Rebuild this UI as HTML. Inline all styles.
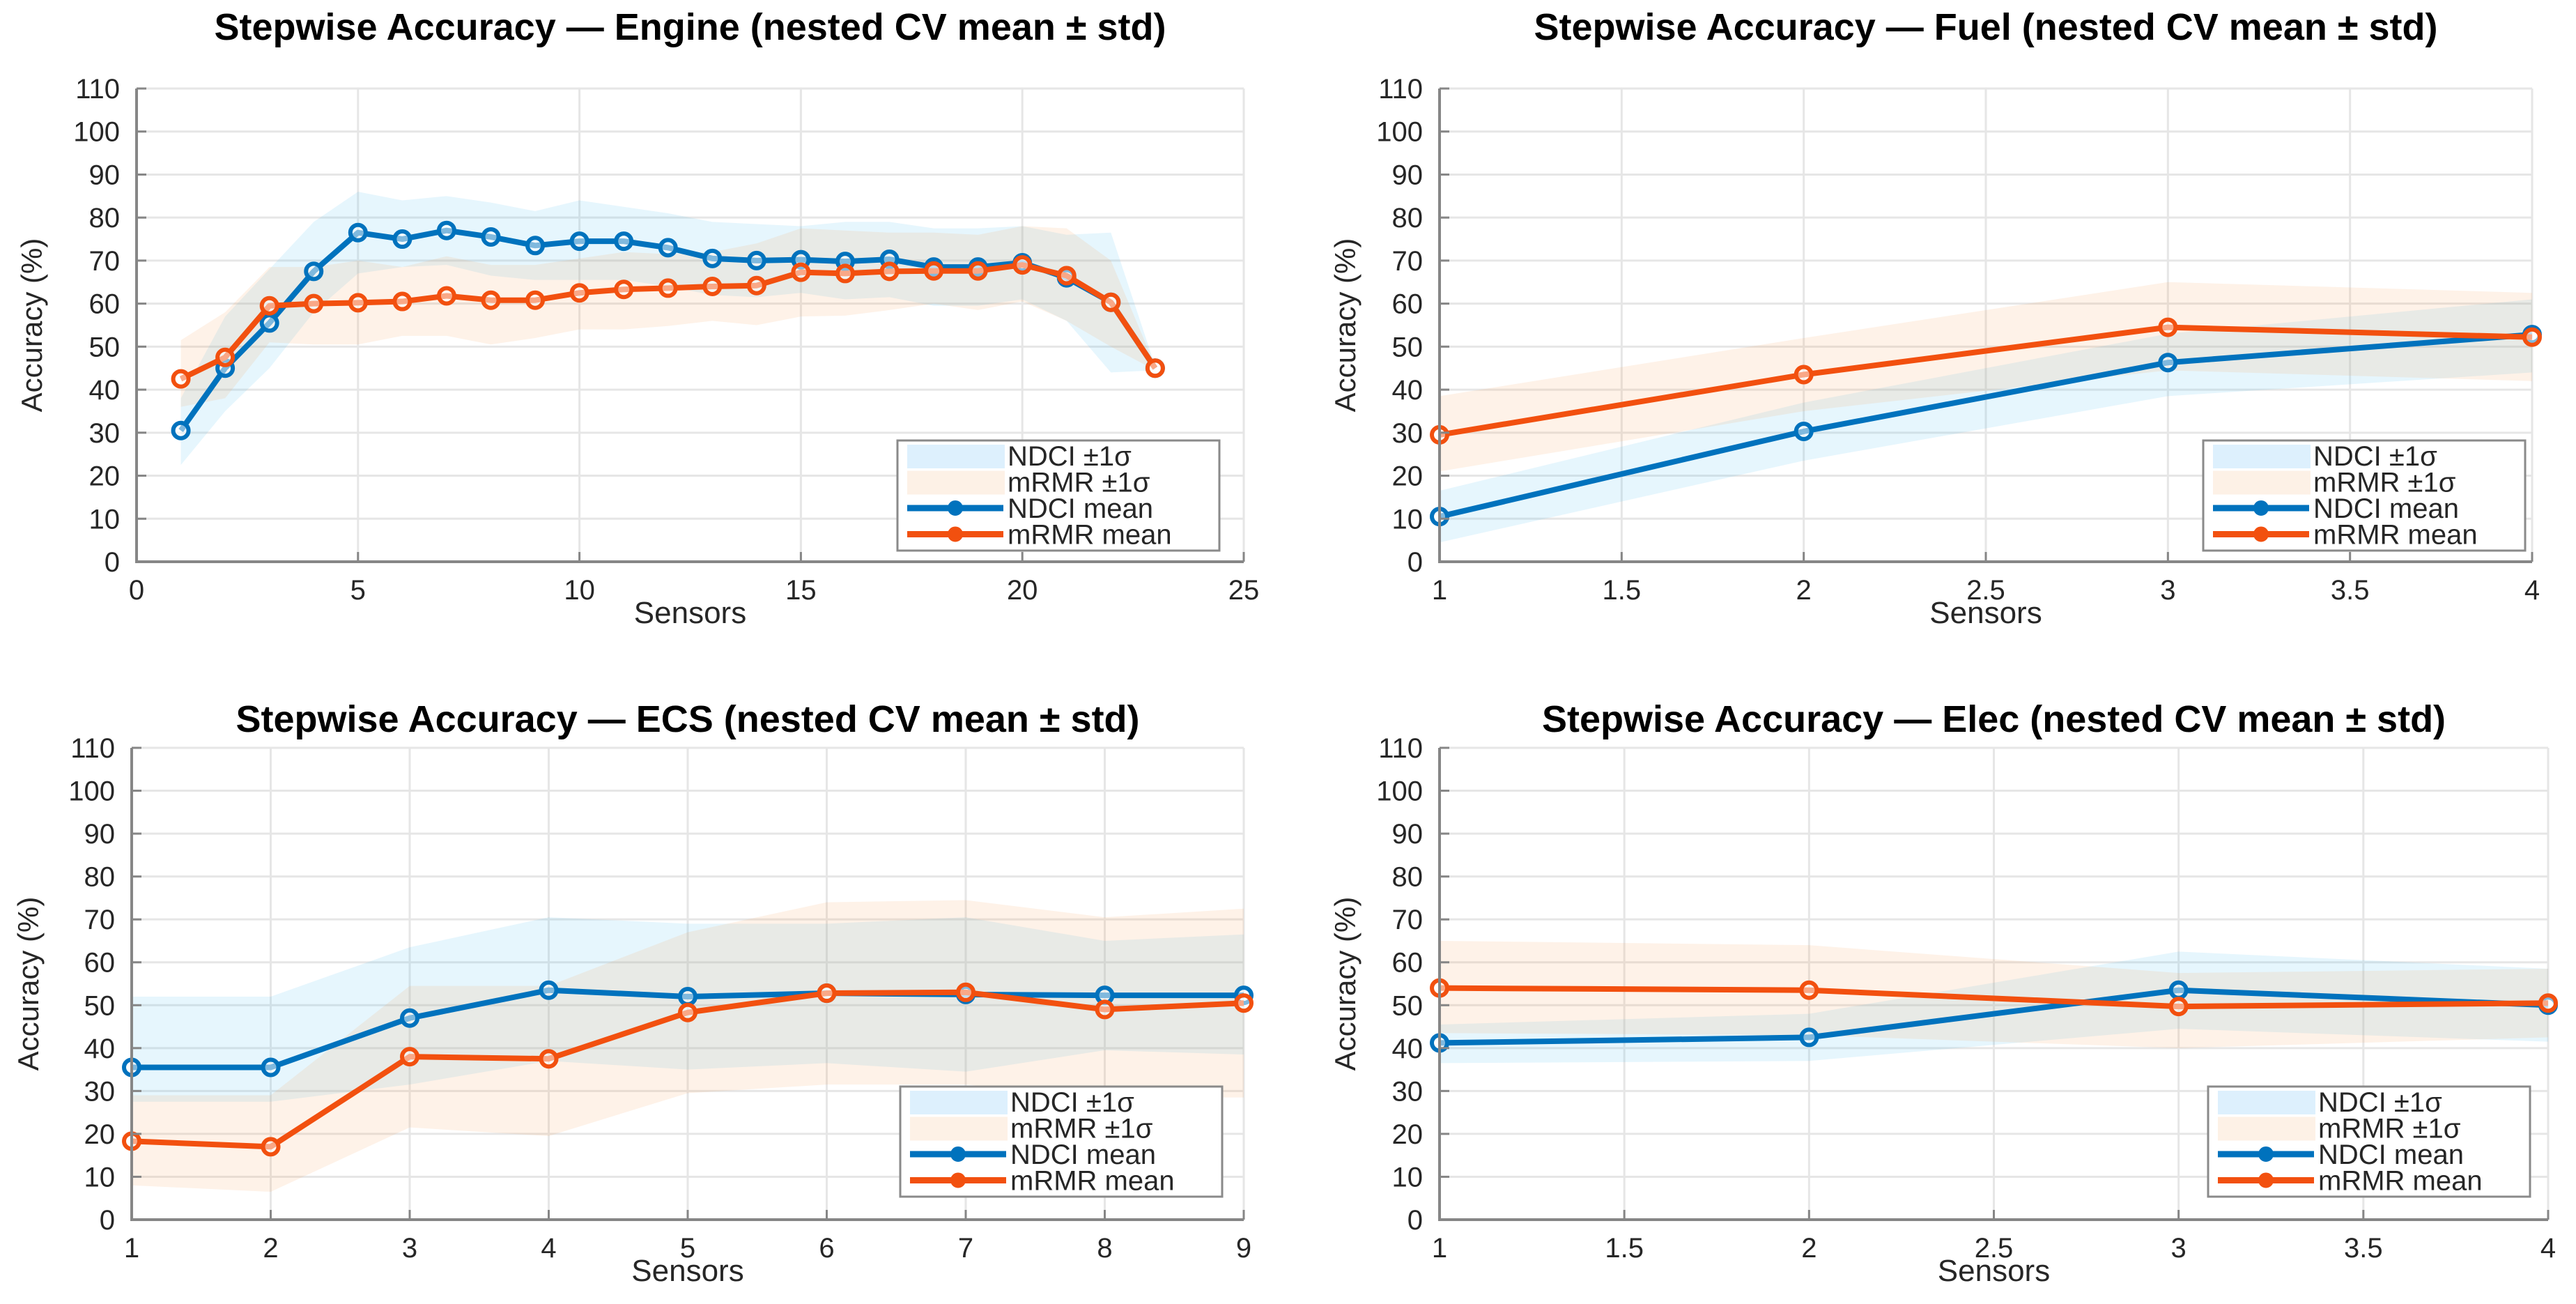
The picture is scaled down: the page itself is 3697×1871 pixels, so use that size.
<!DOCTYPE html>
<html><head><meta charset="utf-8"><style>
html,body{margin:0;padding:0;background:#fff}
svg{display:block}
text{font-family:"Liberation Sans",Arial,sans-serif}
</style></head><body>
<svg id="fig" width="3697" height="1871" viewBox="0 0 3697 1871" xmlns="http://www.w3.org/2000/svg"></svg>
<script>
// ---- Engine ----
const engineX = [1,2,3,4,5,6,7,8,9,10,11,12,13,14,15,16,17,18,19,20,21,22,23];
const engineNdciMean = [30.5,45,55.5,67.5,76.5,75,77,75.5,73.5,74.5,74.5,73,70.5,70,70.2,69.8,70.3,68.5,68.5,69.5,66,60.3,45];
const engineNdciUpper = [38,57,68,79,86,84,85,83.5,81.5,84,82.5,81,79,78.5,78,79,79,77.5,77.5,78,76,76.5,45.5];
const engineNdciLower = [22.5,35,45,58,67,68.5,69,66.5,65.5,65.5,65.5,64,62,61.5,62.5,61,61.5,59.5,59.5,61,56,44,44.5];
const engineMrmrMean = [42.5,47.5,59.5,60,60.2,60.5,61.8,60.8,60.8,62.5,63.3,63.6,64,64.2,67.3,67,67.5,67.6,67.6,69,66.5,60.3,45];
const engineMrmrUpper = [51.5,58,68.5,68.5,70,68.5,71,69,69,70.5,72,71.5,72,74,77.5,77,76.5,76.5,76,78,77.5,70,45.5];
const engineMrmrLower = [36,38,51,50.5,50.5,52.5,52.5,50.5,52,54,54,54.8,56,55,57,57.2,58.5,60,58.5,60.5,56,50,44.5];
const engineXTicks = [0,5,10,15,20,25];
// ---- Fuel ----
const fuelX = [1,2,3,4];
const fuelNdciMean = [10.5,30.3,46.3,52.8];
const fuelNdciUpper = [16.5,37,53,61];
const fuelNdciLower = [4.5,23.5,38.5,44];
const fuelMrmrMean = [29.5,43.5,54.5,52.2];
const fuelMrmrUpper = [38.5,52,65,62.5];
const fuelMrmrLower = [21,35,44.5,42];
const fuelXTicks = [1,1.5,2,2.5,3,3.5,4];
// ---- ECS ----
const ecsX = [1,2,3,4,5,6,7,8,9];
const ecsNdciMean = [35.5,35.5,47,53.5,52,52.8,52.5,52.3,52.3];
const ecsNdciUpper = [52,52,63.5,70.5,69,69,70.5,65,66.5];
const ecsNdciLower = [27.5,27.5,31.5,37,35,36.5,34.5,39.5,38.5];
const ecsMrmrMean = [18.3,17,38,37.5,48.3,52.8,53,49,50.5];
const ecsMrmrUpper = [29,29,54.5,54.5,67,74,74.5,70.5,72.5];
const ecsMrmrLower = [8,6.5,21.5,19.5,29.5,31.5,31.5,28.5,28.5];
const ecsXTicks = [1,2,3,4,5,6,7,8,9];
// ---- Elec ----
const elecX = [1,2,3,4];
const elecNdciMean = [41.2,42.5,53.5,50];
const elecNdciUpper = [45.5,48,62.5,58.5];
const elecNdciLower = [36.5,37,44.5,41.5];
const elecMrmrMean = [54,53.5,49.7,50.5];
const elecMrmrUpper = [65,64,57.5,58.5];
const elecMrmrLower = [43.5,43,40,42.5];
const elecXTicks = [1,1.5,2,2.5,3,3.5,4];
const yTicks = [0,10,20,30,40,50,60,70,80,90,100,110];

const NS = "http://www.w3.org/2000/svg";
const fig = document.getElementById('fig');
function mk(tag, attrs, parent){ const e=document.createElementNS(NS,tag); for(const k in attrs) e.setAttribute(k,attrs[k]); (parent||fig).appendChild(e); return e; }

const BLUE="#0072BD", ORANGE="#F2500F";

function panel(cfg){
  const g = mk('g',{});
  
  
  const {L,R,T,B,xmin,xmax} = cfg;
  const sx = v => L + (v-xmin)/(xmax-xmin)*(R-L);
  const sy = v => B - v/110*(B-T);
  cfg.xticks.forEach(t=>{ const l=mk('line',{x1:sx(t),x2:sx(t),y1:T,y2:B,stroke:'#e6e6e6','stroke-width':3},g);
      });
  yTicks.forEach(t=>{ const l=mk('line',{x1:L,x2:R,y1:sy(t),y2:sy(t),stroke:'#e6e6e6','stroke-width':3},g);
      });
  function band(xs,up,lo,color,op,nm){
    let d='M'+xs.map((x,i)=>sx(x)+','+sy(up[i])).join('L');
    d+='L'+xs.slice().reverse().map((x,i)=>sx(x)+','+sy(lo[xs.length-1-i])).join('L')+'Z';
    const p=mk('path',{d:d,fill:color,'fill-opacity':op,stroke:'none'},g);
     
  }
  band(cfg.x,cfg.nu,cfg.nl,'#4DBEEE',0.14,'ndci-band');
  band(cfg.x,cfg.mu,cfg.ml,'#F5A05A',0.14,'mrmr-band');
  function series(xs,ys,color,nm){
    const pl=mk('polyline',{points:xs.map((x,i)=>sx(x)+','+sy(ys[i])).join(' '),fill:'none',stroke:color,'stroke-width':8,'stroke-linejoin':'round'},g);
     
    xs.forEach((x,i)=>{ const c=mk('circle',{cx:sx(x),cy:sy(ys[i]),r:11,fill:'#fff','fill-opacity':0.5,stroke:color,'stroke-width':6},g);
        });
  }
  series(cfg.x,cfg.nm,BLUE,'ndci-mean');
  series(cfg.x,cfg.mm,ORANGE,'mrmr-mean');
  const ax=mk('path',{d:`M${L},${T}L${L},${B}L${R},${B}`,fill:'none',stroke:'#868686','stroke-width':4},g);
   
  yTicks.forEach(t=>{ mk('line',{x1:L,x2:L+14,y1:sy(t),y2:sy(t),stroke:'#868686','stroke-width':3},g);
    const tx=mk('text',{x:L-24,y:sy(t)+14,'text-anchor':'end','font-size':40,fill:'#262626'},g); tx.textContent=t;
      });
  cfg.xticks.forEach(t=>{ mk('line',{x1:sx(t),x2:sx(t),y1:B,y2:B-14,stroke:'#868686','stroke-width':3},g);
    const tx=mk('text',{x:sx(t),y:B+54,'text-anchor':'middle','font-size':40,fill:'#262626'},g); tx.textContent=t;
      });
  const xt=mk('text',{x:(L+R)/2,y:B+88,'text-anchor':'middle','font-size':44,fill:'#262626'},g); xt.textContent='Sensors';
   
  const yc=(T+B)/2;
  const yt=mk('text',{x:cfg.ylx,y:yc,'text-anchor':'middle','font-size':42,fill:'#262626',transform:`rotate(-90 ${cfg.ylx} ${yc})`},g); yt.textContent='Accuracy (%)';
   
  const tt=mk('text',{x:(L+R)/2,y:cfg.ty,'text-anchor':'middle','font-size':54,'font-weight':'bold',fill:'#000'},g); tt.textContent=cfg.title;
   
  const lr=cfg.legR, lb=cfg.legB, lw=462, lh=158, ll=lr-lw, lt=lb-lh;
  const lg=mk('g',{},g);
   
  mk('rect',{x:ll,y:lt,width:lw,height:lh,fill:'#fff',stroke:'#8a8a8a','stroke-width':3},lg);
  const rows=[['NDCI ±1σ','band','#DDF0FD'],['mRMR ±1σ','band','#FDF1E6'],['NDCI mean','line',BLUE],['mRMR mean','line',ORANGE]];
  rows.forEach((r,i)=>{
    const cy=lt+22+i*37.5;
    const e=mk('g',{},lg);
     
    if(r[1]==='band') mk('rect',{x:ll+14,y:cy-16,width:140,height:34,fill:r[2]},e);
    else { mk('line',{x1:ll+14,x2:ll+152,y1:cy,y2:cy,stroke:r[2],'stroke-width':9},e); mk('circle',{cx:ll+83,cy:cy,r:9,fill:r[2],stroke:r[2],'stroke-width':4},e); }
    const t=mk('text',{x:ll+158,y:cy+14,'font-size':40,fill:'#262626'},e); t.textContent=r[0];
  });
}

panel({name:'engine',L:196,R:1785,T:127,B:806,xmin:0,xmax:25,xticks:engineXTicks,x:engineX,nm:engineNdciMean,nu:engineNdciUpper,nl:engineNdciLower,mm:engineMrmrMean,mu:engineMrmrUpper,ml:engineMrmrLower,title:'Stepwise Accuracy — Engine (nested CV mean ± std)',ty:57,ylx:60,legR:1750,legB:790});
panel({name:'fuel',L:2066,R:3634,T:127,B:806,xmin:1,xmax:4,xticks:fuelXTicks,x:fuelX,nm:fuelNdciMean,nu:fuelNdciUpper,nl:fuelNdciLower,mm:fuelMrmrMean,mu:fuelMrmrUpper,ml:fuelMrmrLower,title:'Stepwise Accuracy — Fuel (nested CV mean ± std)',ty:57,ylx:1945,legR:3624,legB:790});
panel({name:'ecs',L:189,R:1785,T:1073,B:1750,xmin:1,xmax:9,xticks:ecsXTicks,x:ecsX,nm:ecsNdciMean,nu:ecsNdciUpper,nl:ecsNdciLower,mm:ecsMrmrMean,mu:ecsMrmrUpper,ml:ecsMrmrLower,title:'Stepwise Accuracy — ECS (nested CV mean ± std)',ty:1050,ylx:55,legR:1754,legB:1717});
panel({name:'elec',L:2066,R:3657,T:1073,B:1750,xmin:1,xmax:4,xticks:elecXTicks,x:elecX,nm:elecNdciMean,nu:elecNdciUpper,nl:elecNdciLower,mm:elecMrmrMean,mu:elecMrmrUpper,ml:elecMrmrLower,title:'Stepwise Accuracy — Elec (nested CV mean ± std)',ty:1050,ylx:1945,legR:3631,legB:1717});
</script>
</body></html>
